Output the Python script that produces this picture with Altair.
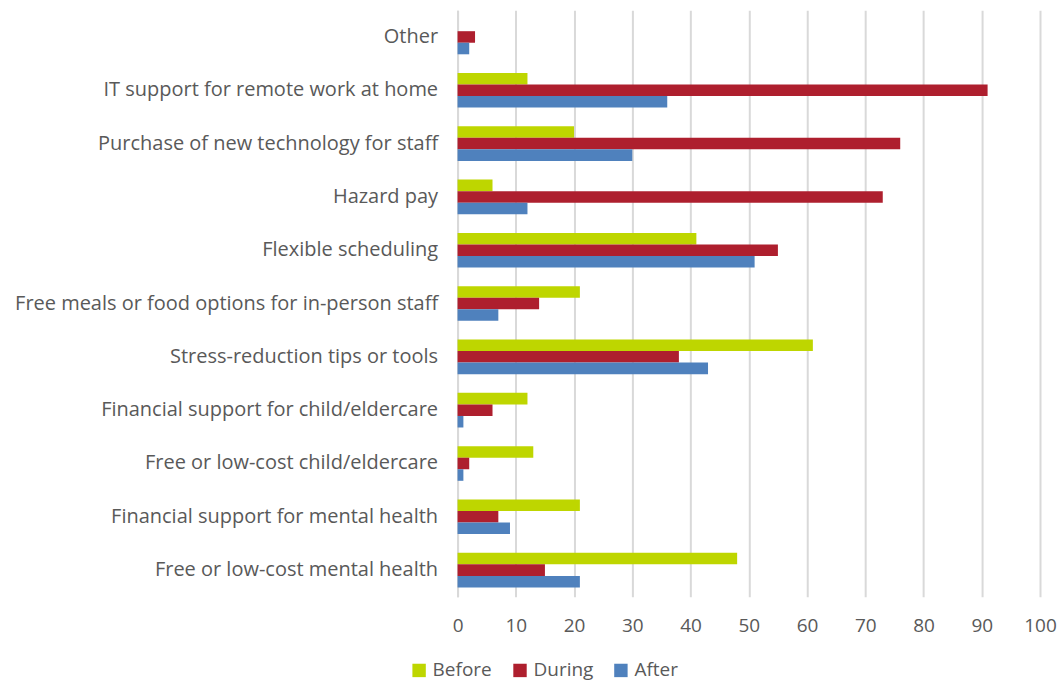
import altair as alt
import pandas as pd

categories = [
    "Other",
    "IT support for remote work at home",
    "Purchase of new technology for staff",
    "Hazard pay",
    "Flexible scheduling",
    "Free meals or food options for in-person staff",
    "Stress-reduction tips or tools",
    "Financial support for child/eldercare",
    "Free or low-cost child/eldercare",
    "Financial support for mental health",
    "Free or low-cost mental health",
]
before = [0, 12, 20, 6, 41, 21, 61, 12, 13, 21, 48]
during = [3, 91, 76, 73, 55, 14, 38, 6, 2, 7, 15]
after = [2, 36, 30, 12, 51, 7, 43, 1, 1, 9, 21]
series = ["Before", "During", "After"]
colors = ["#BED600", "#AE1F2E", "#4F81BD"]

rows = []
for s, vals in zip(series, [before, during, after]):
    for c, v in zip(categories, vals):
        rows.append({"category": c, "series": s, "value": v})
df = pd.DataFrame(rows)

FONT = "Open Sans"
GRAY = "#595959"

chart = alt.Chart(df).mark_bar().encode(
    y=alt.Y(
        "category:N",
        sort=categories,
        title=None,
        scale=alt.Scale(paddingInner=0.35, paddingOuter=0.175),
        axis=alt.Axis(
            ticks=False,
            labelPadding=20,
            minExtent=458,
            maxExtent=458,
            labelLimit=456,
            labelFontSize=20,
            labelFont=FONT,
            labelColor=GRAY,
            domain=True,
            domainColor="#D9D9D9",
            domainWidth=2,
            grid=False,
        ),
    ),
    yOffset=alt.YOffset("series:N", sort=series),
    x=alt.X(
        "value:Q",
        title=None,
        scale=alt.Scale(domain=[0, 100], nice=False),
        axis=alt.Axis(
            values=list(range(0, 101, 10)),
            ticks=False,
            domain=False,
            labelPadding=20,
            labelFlush=False,
            labelOverlap=False,
            labelFontSize=19,
            labelFont=FONT,
            labelColor=GRAY,
            grid=True,
            gridColor="#D9D9D9",
            gridWidth=2,
        ),
    ),
    color=alt.Color(
        "series:N",
        sort=series,
        scale=alt.Scale(domain=series, range=colors),
        legend=alt.Legend(
            title=None,
            orient="none",
            direction="horizontal",
            legendX=-48,
            legendY=651,
            symbolType="square",
            symbolSize=180,
            symbolStrokeWidth=0,
            labelFontSize=19,
            labelFont=FONT,
            labelColor=GRAY,
            columnPadding=18,
            labelOffset=4,
        ),
    ),
).properties(
    width=583,
    height=587,
    padding={"left": 0, "top": 10, "right": 0, "bottom": 0},
).configure_view(stroke=None)

chart.save("out.html", embed_options={"renderer": "svg", "actions": False})
